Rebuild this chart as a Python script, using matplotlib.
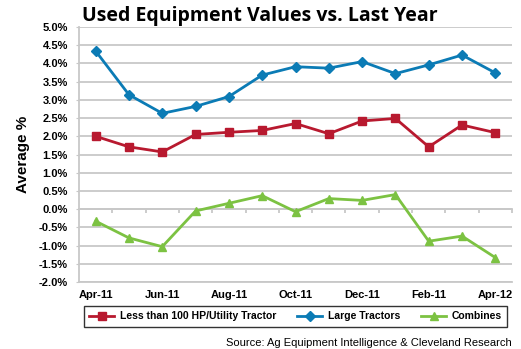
import matplotlib
matplotlib.use("Agg")
import matplotlib.pyplot as plt
import numpy as np

# Data
months = ["Apr-11", "May-11", "Jun-11", "Jul-11", "Aug-11", "Sep-11", "Oct-11",
          "Nov-11", "Dec-11", "Jan-12", "Feb-11", "Mar-12", "Apr-12"]
utility = [2.00, 1.71, 1.57, 2.05, 2.11, 2.16, 2.35, 2.07, 2.42, 2.49, 1.71, 2.31, 2.10]
large = [4.34, 3.14, 2.63, 2.82, 3.09, 3.68, 3.91, 3.87, 4.05, 3.72, 3.96, 4.23, 3.74]
combines = [-0.33, -0.79, -1.03, -0.05, 0.16, 0.37, -0.07, 0.29, 0.24, 0.40, -0.88, -0.74, -1.33]
series_names = ["Less than 100 HP/Utility Tractor", "Large Tractors", "Combines"]
yticks = np.arange(-2.0, 5.01, 0.5)

RED = "#B8192F"
BLUE = "#0B7BB5"
GREEN = "#7CC242"
GRID = "#C8C8C8"

plt.rcParams["font.family"] = ["Liberation Sans", "DejaVu Sans"]

fig = plt.figure(figsize=(5.21, 3.49), dpi=100)
ax = fig.add_axes([79 / 521, 1 - 282 / 349, 433 / 521, 255 / 349])

x = np.arange(len(months))
ax.plot(x, utility, color=RED, lw=2.0, marker="s", ms=6, label=series_names[0], zorder=3)
ax.plot(x, large, color=BLUE, lw=2.0, marker="D", ms=5, label=series_names[1], zorder=3)
ax.plot(x, combines, color=GREEN, lw=2.0, marker="^", ms=6, label=series_names[2], zorder=3)

ax.set_xlim(-0.5, len(months) - 0.5)
ax.set_ylim(-2.0, 5.0)
ax.set_yticks(yticks)
ax.set_yticklabels([f"{v:.1f}%" for v in yticks], fontsize=8, fontweight="bold")
ax.yaxis.grid(True, color=GRID, lw=1.3)
ax.set_axisbelow(True)
ax.tick_params(axis="y", length=2, color=GRID, pad=6)

for s in ["top", "right"]:
    ax.spines[s].set_visible(False)
ax.spines["left"].set_color(GRID)
ax.spines["left"].set_linewidth(1.3)

# horizontal axis sits at zero with ticks between categories
ax.spines["bottom"].set_position(("data", 0))
ax.spines["bottom"].set_color(GRID)
ax.spines["bottom"].set_linewidth(1.3)
ax.set_xticks(np.arange(0.5, len(months), 1.0))
ax.tick_params(axis="x", length=3, color=GRID, width=1.3, labelbottom=False)

# category labels at the bottom of the plot
sec = ax.secondary_xaxis("bottom")
sec.set_xticks(x[::2])
sec.set_xticklabels(months[::2], fontsize=8, fontweight="bold")
sec.tick_params(length=0, pad=6)
sec.spines["bottom"].set_color(GRID)
sec.spines["bottom"].set_linewidth(1.3)

ax.set_ylabel("Average %", fontsize=11, fontweight="bold", labelpad=6)

fig.text(260 / 521, 0.955, "Used Equipment Values vs. Last Year", ha="center", va="center",
         fontsize=14, fontweight="bold", family=["Open Sans", "DejaVu Sans"])

leg = ax.legend(loc="lower left", bbox_to_anchor=(0.0, -0.195, 1.0, 0.09), mode="expand",
                ncol=3, frameon=True, fancybox=False, edgecolor="black", handlelength=2.4,
                borderpad=0.5, columnspacing=1.2, handletextpad=0.5,
                prop={"weight": "bold", "size": 7.5})
leg.get_frame().set_linewidth(1.0)

fig.text(512 / 521, 1 - 343 / 349, "Source: Ag Equipment Intelligence & Cleveland Research",
         ha="right", va="center", fontsize=8)

fig.savefig("out.png", dpi=100)
